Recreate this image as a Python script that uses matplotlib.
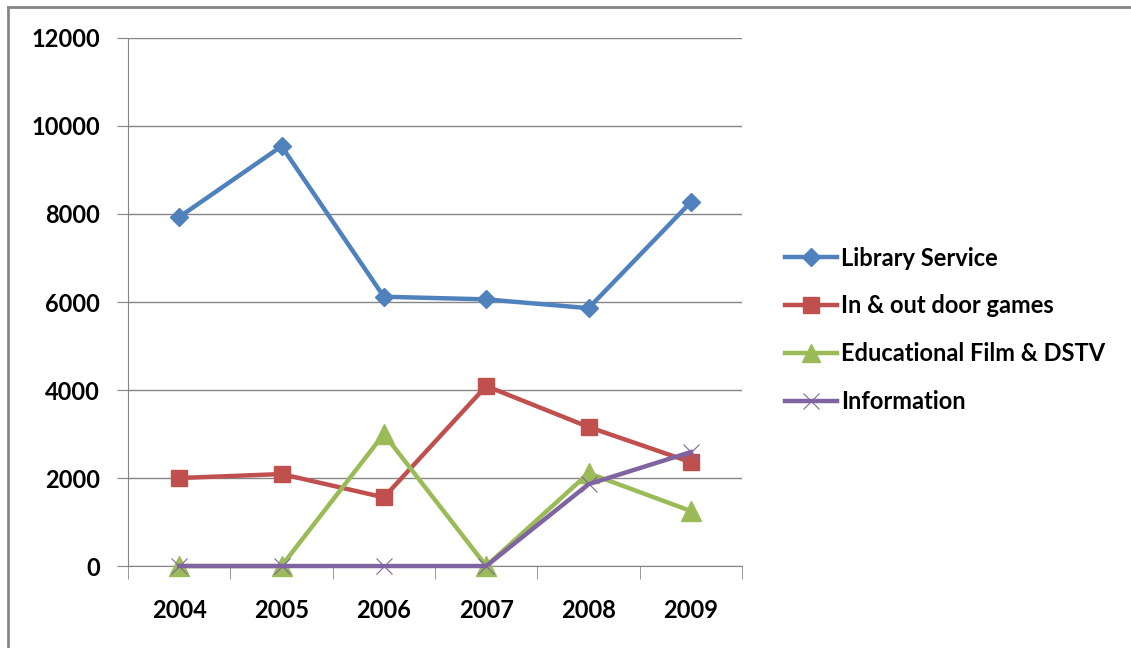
import matplotlib.pyplot as plt
from matplotlib.lines import Line2D

years = ['2004', '2005', '2006', '2007', '2008', '2009']
library_service = [7930, 9540, 6120, 6060, 5860, 8270]
games = [2000, 2090, 1560, 4090, 3160, 2360]
educational = [0, 0, 3000, 0, 2110, 1250]
information = [0, 0, 0, 0, 1860, 2590]

labels = ['Library Service', 'In & out door games',
          'Educational Film & DSTV', 'Information']
colors = ['#4F81BD', '#C0504D', '#9BBB59', '#8064A2']

plt.rcParams['font.family'] = ['Lato', 'DejaVu Sans']

fig = plt.figure(figsize=(11.31, 6.48), dpi=100)
ax = fig.add_axes([0.1132, 0.1265, 0.5429, 0.8149])

x = range(len(years))
lw = 3.2
ax.plot(x, library_service, color=colors[0], lw=lw, marker='D', ms=9,
        label=labels[0], zorder=3, clip_on=False)
ax.plot(x, games, color=colors[1], lw=lw, marker='s', ms=12,
        label=labels[1], zorder=3, clip_on=False)
ax.plot(x, educational, color=colors[2], lw=lw, marker='^', ms=14,
        label=labels[2], zorder=3, clip_on=False)
ax.plot(x, information, color=colors[3], lw=lw, marker='x', ms=12,
        mew=0.8, label=labels[3], zorder=4, clip_on=False)

ax.set_xlim(-0.5, 5.5)
ax.set_ylim(0, 12000)
ax.set_yticks(range(0, 12001, 2000))
ax.set_xticks(list(x))
ax.set_xticklabels(years)
ax.set_xticks([i - 0.5 for i in range(7)], minor=True)
ax.tick_params(axis='x', which='major', length=0, pad=24, labelsize=17)
ax.tick_params(axis='x', which='minor', length=9, color='#868686')
ax.tick_params(axis='y', length=8, color='#868686', pad=12, labelsize=17)
for lab in ax.get_xticklabels() + ax.get_yticklabels():
    lab.set_fontweight('bold')

ax.grid(axis='y', color='#868686', lw=1)
ax.set_axisbelow(True)
for s in ['top', 'right']:
    ax.spines[s].set_visible(False)
for s in ['left', 'bottom']:
    ax.spines[s].set_color('#868686')

handles = [Line2D([], [], color=c, lw=lw, marker=m, ms=s, mew=w)
           for c, m, s, w in zip(colors, ['D', 's', '^', 'x'],
                                 [9, 12, 13, 12], [1, 1, 1, 0.8])]
fig.legend(handles, labels, loc='center left', bbox_to_anchor=(0.6755, 0.491),
           frameon=False, handlelength=2.2, handletextpad=0.15,
           labelspacing=1.05, prop={'weight': 'bold', 'size': 17})

# outer chart border (top and left)
fig.add_artist(Line2D([0.0075, 0.0075], [0, 0.989], color='#868686', lw=2,
                      transform=fig.transFigure))
fig.add_artist(Line2D([0.0075, 1], [0.989, 0.989], color='#868686', lw=2,
                      transform=fig.transFigure))

fig.savefig('out.png', dpi=100)
